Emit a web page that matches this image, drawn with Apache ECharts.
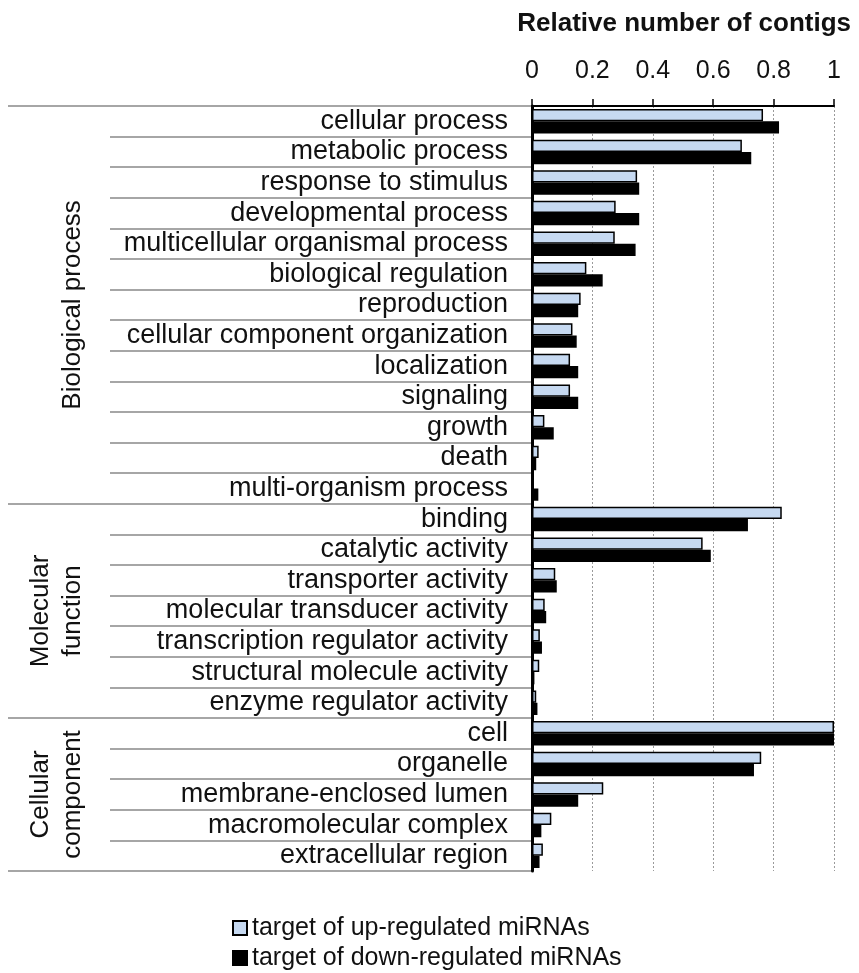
<!DOCTYPE html>
<html>
<head>
<meta charset="utf-8">
<script src="https://cdn.jsdelivr.net/npm/echarts@6/dist/echarts.min.js"></script>
<style>
html,body{margin:0;padding:0;background:#fff;}
#chart{width:859px;height:973px;}
</style>
</head>
<body>
<div id="chart"></div>
<script>
const categories = [
  'cellular process','metabolic process','response to stimulus','developmental process',
  'multicellular organismal process','biological regulation','reproduction',
  'cellular component organization','localization','signaling','growth','death',
  'multi-organism process',
  'binding','catalytic activity','transporter activity','molecular transducer activity',
  'transcription regulator activity','structural molecule activity','enzyme regulator activity',
  'cell','organelle','membrane-enclosed lumen','macromolecular complex','extracellular region'
];
const upValues = [0.765,0.695,0.348,0.277,0.274,0.180,0.161,0.134,0.126,0.126,0.041,0.022,0.006,
  0.827,0.565,0.077,0.042,0.026,0.024,0.014,
  1.0,0.759,0.236,0.064,0.036];
const downValues = [0.818,0.726,0.355,0.355,0.343,0.234,0.153,0.148,0.153,0.153,0.072,0.014,0.021,
  0.715,0.592,0.082,0.047,0.033,0.008,0.018,
  1.0,0.735,0.153,0.031,0.025];
const groupNames = ['Biological process','Molecular\nfunction','Cellular\ncomponent'];
const groupSizes = [13,7,5];
const seriesNames = ['target of up-regulated miRNAs','target of down-regulated miRNAs'];
const axisTitle = 'Relative number of contigs';
const xMin = 0, xMax = 1, xStep = 0.2;

const boundaries = [0];
groupSizes.forEach(s => boundaries.push(boundaries[boundaries.length-1] + s));
const centers = groupSizes.map((s,i) => boundaries[i] + s/2);
const nCat = categories.length;

const FONT = 'Liberation Sans, Arial, sans-serif';
const TOP = 106, BOTTOM = 102;
const sepColor = '#a6a6a6';

const chart = echarts.init(document.getElementById('chart'), null, {renderer:'canvas'});
chart.setOption({
  animation:false,
  backgroundColor:'#fff',
  textStyle:{fontFamily:FONT},
  title:{text:axisTitle, right:3, top:6,
    textStyle:{fontFamily:FONT, fontSize:26, fontWeight:'bold', color:'#111'}},
  legend:{
    orient:'vertical', left:232, top:915, itemWidth:14, itemHeight:14, itemGap:4,
    icon:'rect', padding:0,
    textStyle:{fontFamily:FONT, fontSize:25, lineHeight:26, color:'#111'},
    data:seriesNames
  },
  grid:[
    {left:532, right:25, top:TOP, bottom:BOTTOM},
    {left:110, width:422, top:TOP, bottom:BOTTOM},
    {left:8, width:524, top:TOP, bottom:BOTTOM},
    {left:97, width:1, top:TOP, bottom:BOTTOM}
  ],
  xAxis:[
    {gridIndex:0, type:'value', position:'top', min:xMin, max:xMax, interval:xStep,
      axisLine:{show:true, lineStyle:{color:'#000', width:2}},
      axisTick:{show:true, length:7, lineStyle:{color:'#000', width:1.5}},
      axisLabel:{fontFamily:FONT, fontSize:25, color:'#111', margin:22},
      splitLine:{show:true, lineStyle:{color:'#9a9a9a', type:[2,2], width:1}}
    },
    {gridIndex:1, type:'value', show:false},
    {gridIndex:2, type:'value', show:false},
    {gridIndex:3, type:'value', show:false}
  ],
  yAxis:[
    {gridIndex:0, type:'category', inverse:true, data:categories,
      axisLine:{show:true, lineStyle:{color:'#000', width:3}},
      axisTick:{show:false},
      axisLabel:{interval:0, fontFamily:FONT, fontSize:27, color:'#111', margin:24, padding:[2,0,0,0]},
      splitLine:{show:false}
    },
    {gridIndex:1, type:'value', inverse:true, min:0, max:nCat, interval:1,
      axisLine:{show:false}, axisTick:{show:false}, axisLabel:{show:false},
      splitLine:{show:true, lineStyle:{color:sepColor, width:2}}
    },
    {gridIndex:2, type:'value', inverse:true, min:0, max:nCat,
      axisLine:{show:false},
      axisTick:{show:false, customValues:boundaries},
      axisLabel:{show:false, customValues:boundaries},
      splitLine:{show:true, lineStyle:{color:sepColor, width:2}}
    },
    {gridIndex:3, type:'value', inverse:true, min:0, max:nCat,
      axisLine:{show:false},
      axisTick:{show:false, customValues:centers},
      axisLabel:{show:true, customValues:centers, rotate:90, margin:8,
        fontFamily:FONT, fontSize:26, color:'#111', lineHeight:32, align:'center',
        formatter:(v)=>{const i=centers.indexOf(v); return i>=0?groupNames[i]:'';}},
      splitLine:{show:false}
    }
  ],
  series:[
    {name:seriesNames[0], type:'bar', xAxisIndex:0, yAxisIndex:0, data:upValues,
      barGap:'0%', barCategoryGap:'20%',
      itemStyle:{color:'#c6d9f1', borderColor:'#000', borderWidth:1.5}},
    {name:seriesNames[1], type:'bar', xAxisIndex:0, yAxisIndex:0, data:downValues,
      barGap:'0%', barCategoryGap:'20%',
      itemStyle:{color:'#000', borderColor:'#000', borderWidth:1.5}}
  ]
});
</script>
</body>
</html>
